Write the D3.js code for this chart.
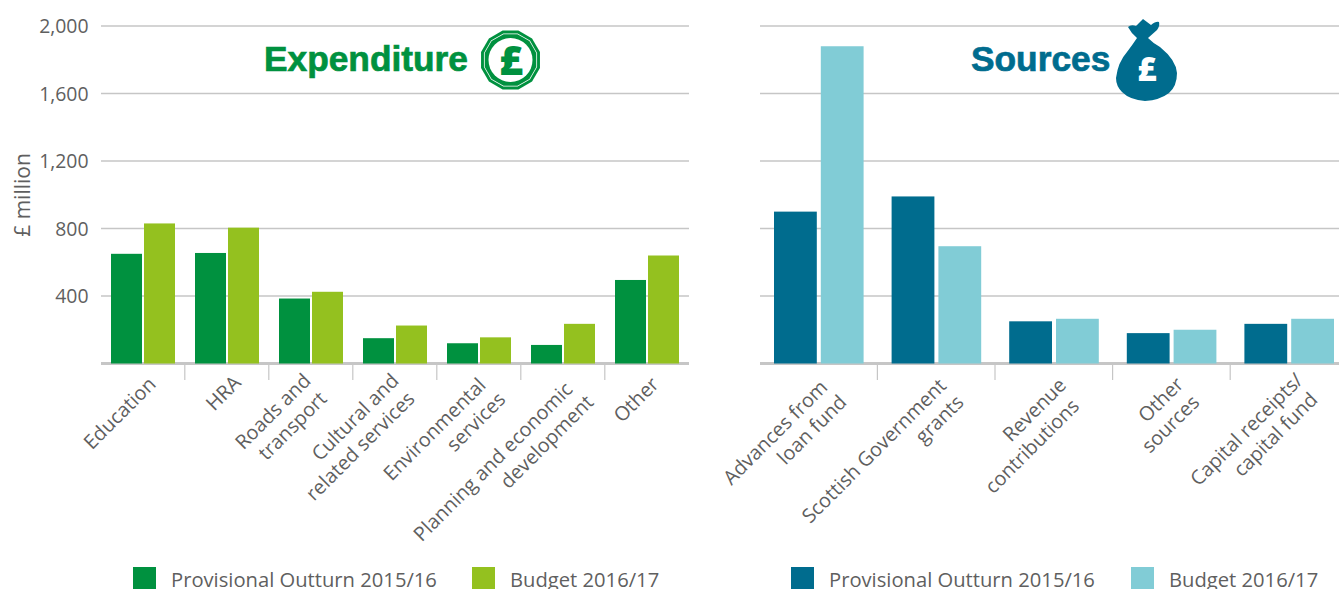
<!DOCTYPE html>
<html><head><meta charset="utf-8">
<script src="https://cdn.jsdelivr.net/npm/d3@7/dist/d3.min.js"></script>
<style>
html,body{margin:0;padding:0;background:#fff;overflow:hidden}
svg{display:block}
text{font-family:"Open Sans","Noto Sans",sans-serif;fill:#5f5f5f}
.lab{font-size:19.8px}
.tickl{font-size:19.4px}
.leg{font-size:20.2px}
.ttl{font-family:"Liberation Sans",sans-serif;font-weight:700;font-size:35.3px;stroke-width:.7px}
</style></head><body>
<svg id="c" width="1339" height="589"></svg>
<script>
const yTicks=[400,800,1200,1600,2000];
const expenditureCategories=[["Education"],["HRA"],["Roads and","transport"],["Cultural and","related services"],["Environmental","services"],["Planning and economic","development"],["Other"]];
const expenditureOutturn=[650,655,385,150,120,110,495];
const expenditureBudget=[830,805,425,225,155,235,640];
const sourcesCategories=[["Advances from","loan fund"],["Scottish Government","grants"],["Revenue","contributions"],["Other","sources"],["Capital receipts/","capital fund"]];
const sourcesOutturn=[900,990,250,180,235];
const sourcesBudget=[1880,695,265,200,265];
const legendLabels=["Provisional Outturn 2015/16","Budget 2016/17"];

const svg=d3.select("#c");
const y=d3.scaleLinear().domain([0,2000]).range([363.5,26]);
const GRID="#c6c6c6";

function panel(o){
  const g=svg.append("g");
  const x=d3.scaleBand().domain(o.cats.map((d,i)=>i)).range([o.x0,o.x1]).padding(0);
  const bw=x.bandwidth();
  const W=bw-2*o.pad;
  const inner=d3.scaleBand().domain([0,1]).range([o.pad,bw-o.pad]).paddingInner(2*o.gap/(W+o.gap));
  g.selectAll("line.grid").data(yTicks).join("line").attr("class","grid")
    .attr("x1",o.x0).attr("x2",o.x1).attr("y1",d=>y(d)).attr("y2",d=>y(d))
    .attr("stroke",GRID).attr("stroke-width",1.3);
  g.append("line").attr("x1",o.x0).attr("x2",o.x1).attr("y1",y(0)).attr("y2",y(0))
    .attr("stroke",GRID).attr("stroke-width",3);
  [o.a,o.b].forEach((vals,k)=>{
    g.append("g").selectAll("rect").data(vals).join("rect")
      .attr("x",(d,i)=>x(i)+inner(k)).attr("width",inner.bandwidth())
      .attr("y",d=>y(d)).attr("height",d=>y(0)-y(d)).attr("fill",k?o.c2:o.c1);
  });
  g.selectAll("line.tick").data(o.cats.slice(1)).join("line").attr("class","tick")
    .attr("x1",(d,i)=>x(i+1)-.2).attr("x2",(d,i)=>x(i+1)-.2).attr("y1",y(0)+1).attr("y2",380)
    .attr("stroke",GRID).attr("stroke-width",1.2);
  o.cats.forEach((lines,i)=>{
    const cx=x(i)+bw/2;
    const t=g.append("g");
    lines.forEach((s,j)=>t.append("text").attr("class","lab").attr("x",j?o.shift[i]:0).attr("y",j*24).attr("text-anchor","end").text(s));
    const p=o.nudge[i];
    t.attr("transform",`translate(${cx+p[0]},${p[1]}) rotate(-45)`);
  });
  const lg=svg.append("g");
  legendLabels.forEach((s,k)=>{
    lg.append("rect").attr("x",o.leg[k]).attr("y",567).attr("width",23).attr("height",23).attr("fill",k?o.c2:o.c1);
    lg.append("text").attr("class","leg").attr("x",o.leg[k]+38).attr("y",587).text(s);
  });
}
panel({cats:expenditureCategories,a:expenditureOutturn,b:expenditureBudget,x0:101,x1:689,pad:10,gap:2,c1:"#00913f",c2:"#94c11f",
  nudge:[[14,385.5],[15,384],[1,382],[5,382],[8,386.5],[10.7,390.5],[13,385.5]],shift:[0,0,-1.4,-1.4,4,5.6,0],leg:[133,472]});
panel({cats:sourcesCategories,a:sourcesOutturn,b:sourcesBudget,x0:760,x1:1348,pad:14,gap:4,c1:"#006c8e",c2:"#81ccd6",
  nudge:[[10,388.5],[11,387],[13.4,386.5],[13,385.5],[15,381.5]],shift:[3,.7,-5.6,-1.4,-3.5],leg:[791,1131]});

svg.append("g").selectAll("text").data(yTicks).join("text").attr("class","tickl")
  .attr("x",88.5).attr("y",d=>y(d)+7).attr("text-anchor","end").text(d=>d3.format(",")(d));
svg.append("text").attr("transform","translate(30,195) rotate(-90)").attr("text-anchor","middle").attr("font-size",21).text("£ million");

svg.append("text").attr("class","ttl").attr("x",264).attr("y",71).attr("style","fill:#00913f;stroke:#00913f").text("Expenditure");
svg.append("text").attr("class","ttl").attr("x",971).attr("y",71).attr("style","fill:#006c8e;stroke:#006c8e").text("Sources");
const poly=(cx,cy,r,n)=>d3.range(n).map(i=>{const a=(i+.5)*2*Math.PI/n;return [cx+r*Math.cos(a),cy+r*Math.sin(a)].join(",")}).join(" ");
const coin=svg.append("g");
coin.append("polygon").attr("points",poly(510.5,60,30.5,12)).attr("fill","#00913f");
coin.append("polygon").attr("points",poly(510.5,60,27.5,12)).attr("fill","#fff");
coin.append("polygon").attr("points",poly(510.5,60,26.7,12)).attr("fill","#00913f");
coin.append("circle").attr("cx",510.5).attr("cy",60).attr("r",22).attr("fill","#fff");
coin.append("text").attr("x",511).attr("y",75).attr("text-anchor","middle").attr("style","fill:#00913f;font-size:41px;font-weight:800").text("£");
const bag=svg.append("g");
bag.append("path").attr("fill","#006c8e").attr("d",
 "M1128,27 Q1131,24 1136,26 L1143,19 L1151,25 Q1156,21 1159,22 Q1160,26 1157,30 L1148,38 Q1154,44 1160,47 Q1176,60 1177,73 Q1177,86 1169,93 Q1160,100 1145,101 Q1130,100 1122,92 Q1116,86 1116,78 Q1118,62 1127,52 Q1133,44 1137,38 Q1131,33 1128,27 Z");
bag.append("text").attr("x",1147).attr("y",81).attr("text-anchor","middle").attr("style","fill:#fff;font-size:33px;font-weight:800").text("£");
</script></body></html>
